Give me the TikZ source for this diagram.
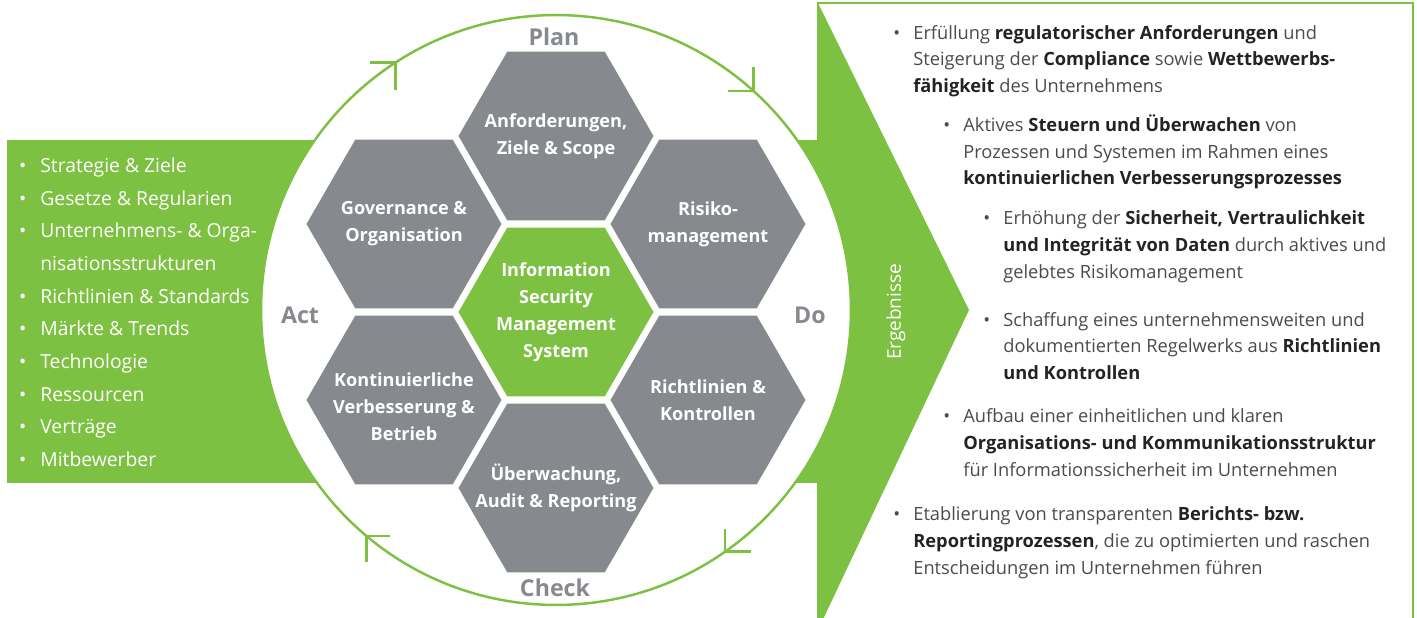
\documentclass[tikz,border=0pt]{standalone}
\usepackage{fontspec}
\setmainfont{Open Sans}
\usetikzlibrary{shapes.geometric,calc}

\definecolor{isgruen}{RGB}{125,193,66}
\definecolor{isgrau}{RGB}{134,138,142}
\definecolor{istext}{RGB}{75,75,75}
\definecolor{isdunkel}{RGB}{35,35,35}

\newcommand{\pkt}{\llap{\textbullet\hspace{0.72em}}}
\newcommand{\hb}[1]{\textbf{\color{isdunkel}#1}}

\begin{document}
\begin{tikzpicture}[x=0.02cm,y=0.02cm,
    hexa/.style={regular polygon,regular polygon sides=6,minimum size=3.9cm,inner sep=0pt,outer sep=0pt,fill=isgrau},
    hextext/.style={align=center,text=white,font=\fontsize{10.3}{15.3}\selectfont\bfseries},
    phase/.style={text=isgrau,font=\fontsize{13.2}{15}\selectfont\bfseries},
    ring/.style={draw=isgruen,line width=1.4pt},
    punkte/.style={anchor=base west,align=left,inner sep=0pt,text=istext,font=\fontsize{10.4}{15.1}\selectfont}]
      \useasboundingbox (0,0) rectangle (1417,-618);

      % green band and result box
      \fill[isgruen] (7,-140) rectangle (830,-483);
      \draw[isgruen,line width=1.4pt] (818,-630) -- (818,-3) -- (1413,-3) -- (1413,-630);
      \fill[isgruen] (818,-3) -- (969,-310) -- (818,-630) -- cycle;

      % PDCA ring
      \node[circle,minimum size=11.8cm,inner sep=0pt,outer sep=0pt,fill=white,ring] (zyklus) at (556,-310) {};
      \foreach \w/\dx/\dy in {123.7/-25/-27, 48.4/-25/24, 305.3/26/23, 230.4/24/-26}
        \draw[ring] ($(zyklus.\w)+(\dx,0)$) -- (zyklus.\w) -- ++(0,\dy);

      % hexagons
      \node[hexa] (anf) at (556,-136) {};
      \node[hexa] (gov) at (404,-224) {};
      \node[hexa] (ris) at (708,-224) {};
      \node[hexa,fill=isgruen] (isms) at (556,-312) {};
      \node[hexa] (kvb) at (404,-400) {};
      \node[hexa] (ric) at (708,-400) {};
      \node[hexa] (ueb) at (556,-488) {};

      \node[hextext] (anf-t) at (anf) {Anforderungen,\\Ziele \& Scope};
      \node[hextext] (gov-t) at (gov) {Governance \&\\Organisation};
      \node[hextext] (ris-t) at (ris) {Risiko-\\management};
      \node[hextext] (isms-t) at (isms) {Information\\Security\\Management\\System};
      \node[hextext,yshift=-4pt] (kvb-t) at (kvb) {Kontinuierliche\\Verbesserung \&\\Betrieb};
      \node[hextext] (ric-t) at (ric) {Richtlinien \&\\Kontrollen};
      \node[hextext] (ueb-t) at (ueb) {Überwachung,\\Audit \& Reporting};

      \node[phase] (plan) at (554,-37) {Plan};
      \node[phase] (do) at (810,-315) {Do};
      \node[phase] (check) at (555,-588) {Check};
      \node[phase] (act) at (300,-315) {Act};

      % inputs (base = last line)
      \node[anchor=base west,align=left,inner sep=0pt,text=white,font=\fontsize{11}{18.6}\selectfont] (einfl) at (40,-466.5)
        {\pkt Strategie \& Ziele\\
         \pkt Gesetze \& Regularien\\
         \pkt Unternehmens- \& Orga-\\
         nisationsstrukturen\\
         \pkt Richtlinien \& Standards\\
         \pkt Märkte \& Trends\\
         \pkt Technologie\\
         \pkt Ressourcen\\
         \pkt Verträge\\
         \pkt Mitbewerber};

      % results
      \node[rotate=90,text=white,font=\fontsize{10.8}{12}\selectfont] (erg) at (896,-312) {Ergebnisse};

      \node[punkte] (e1) at (913,-92.5) {\pkt Erfüllung \hb{regulatorischer Anforderungen} und\\Steigerung der \hb{Compliance} sowie \hb{Wettbewerbs-}\\\hb{fähigkeit} des Unternehmens};
      \node[punkte] (e2) at (963,-185) {\pkt Aktives \hb{Steuern und Überwachen} von\\Prozessen und Systemen im Rahmen eines\\\hb{kontinuierlichen Verbesserungsprozesses}};
      \node[punkte] (e3) at (1003,-278) {\pkt Erhöhung der \hb{Sicherheit, Vertraulichkeit}\\\hb{und Integrität von Daten} durch aktives und\\gelebtes Risikomanagement};
      \node[punkte] (e4) at (1003,-379.5) {\pkt Schaffung eines unternehmensweiten und\\dokumentierten Regelwerks aus \hb{Richtlinien}\\\hb{und Kontrollen}};
      \node[punkte] (e5) at (963,-476) {\pkt Aufbau einer einheitlichen und klaren\\\hb{Organisations- und Kommunikationsstruktur}\\für Informationssicherheit im Unternehmen};
      \node[punkte] (e6) at (913,-574) {\pkt Etablierung von transparenten \hb{Berichts- bzw.}\\\hb{Reportingprozessen}, die zu optimierten und raschen\\Entscheidungen im Unternehmen führen};
    \end{tikzpicture}
\end{document}
